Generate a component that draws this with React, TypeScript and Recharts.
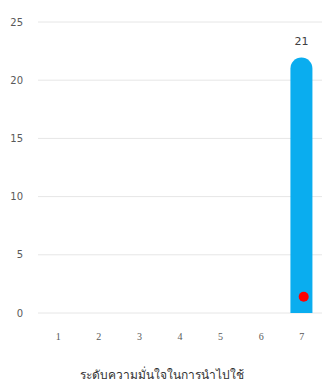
import React from 'react';
import { ComposedChart, Bar, Line, XAxis, YAxis, CartesianGrid, LabelList } from 'recharts';

// Response levels (1–7) and how many respondents picked each
const levels = ['1', '2', '3', '4', '5', '6', '7'];
const counts = [0, 0, 0, 0, 0, 0, 21];
// Marker point drawn over the bar
const markers: (number | null)[] = [null, null, null, null, null, null, 1.4];
const yTicks = [0, 5, 10, 15, 20, 25];
const axisTitle = 'ระดับความมั่นใจในการนำไปใช้';

const rows = levels.map((level, i) => ({ level, count: counts[i], marker: markers[i] }));

// Bar drawn like a thick stroke with a round cap on its top end
const CappedBar = (props: any) => {
  const { x, y, width, height, fill } = props;
  if (!height || height <= 0) return null;
  const r = width / 2;
  const top = y - r;
  const bottom = y + height;
  const d = `M${x},${bottom} L${x},${top + r} A${r},${r} 0 0 1 ${x + width},${top + r} L${x + width},${bottom} Z`;
  return <path d={d} fill={fill} />;
};

const ValueLabel = (props: any) => {
  const { x, y, width, value } = props;
  if (!value) return null;
  return (
    <text x={x + width / 2} y={y - 24} textAnchor="middle" fill="#404040" fontSize={11} fontFamily="DejaVu Sans, sans-serif">
      {value}
    </text>
  );
};

export default function App() {
  return (
    <div style={{ position: 'absolute', left: 0, top: 0, background: '#fff' }}>
      <ComposedChart
        width={323}
        height={385}
        data={rows}
        margin={{ top: 22, right: 1, left: 0, bottom: 8 }}
      >
        <CartesianGrid vertical={false} stroke="#e6e6e6" />
        <XAxis
          dataKey="level"
          axisLine={false}
          tickLine={false}
          tickSize={0}
          tickMargin={20}
          height={64}
          tick={{ fill: '#595959', fontSize: 10, fontFamily: 'Liberation Serif, serif' }}
          label={{
            value: axisTitle,
            position: 'insideBottom',
            offset: -2,
            dx: -18,
            fill: '#333333',
            fontSize: 12,
            fontFamily: 'Noto Sans, sans-serif',
          }}
        />
        <YAxis
          domain={[0, 25]}
          ticks={yTicks}
          axisLine={false}
          tickLine={false}
          tickSize={0}
          tickMargin={15}
          width={38}
          tick={{ fill: '#595959', fontSize: 10, fontFamily: 'DejaVu Sans, sans-serif' }}
        />
        <Bar dataKey="count" fill="#0AADEF" barSize={22} shape={CappedBar} isAnimationActive={false}>
          <LabelList dataKey="count" content={ValueLabel} />
        </Bar>
        <Line
          dataKey="marker"
          stroke="none"
          dot={{ r: 5, fill: '#FF0000', stroke: '#FF0000', strokeWidth: 0, transform: 'translate(2,0)' }}
          activeDot={false}
          isAnimationActive={false}
        />
      </ComposedChart>
    </div>
  );
}
